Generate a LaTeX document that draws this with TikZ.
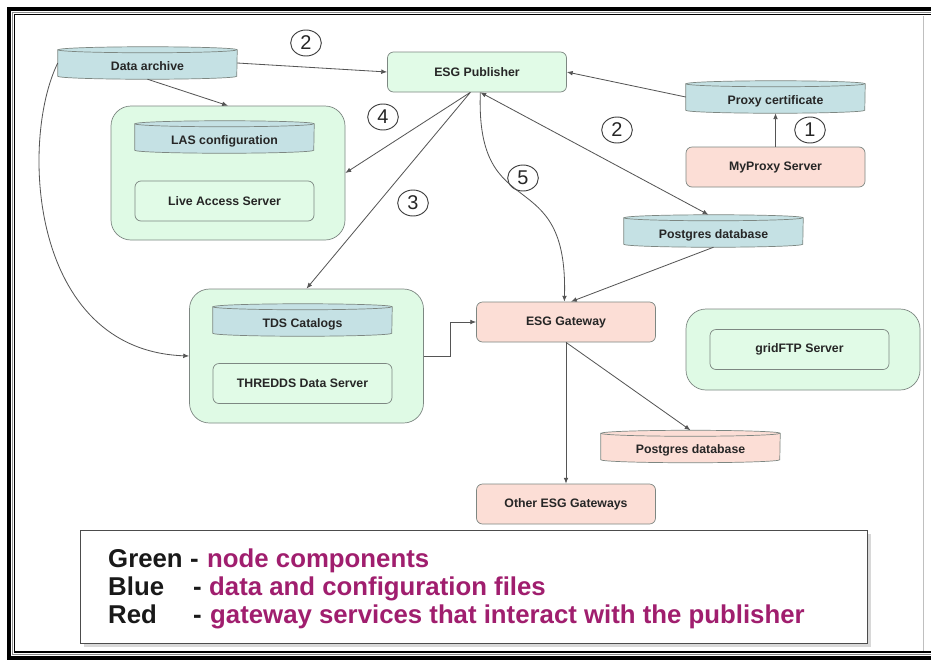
\documentclass[tikz,border=0pt]{standalone}
\usepackage{fontspec}
\setsansfont{Liberation Sans}
\usetikzlibrary{arrows.meta,backgrounds,shadows,shapes.geometric}

\definecolor{grpgreen}{RGB}{223,250,229}
\definecolor{boxgreen}{RGB}{225,251,231}
\definecolor{dbblue}{RGB}{197,225,228}
\definecolor{boxred}{RGB}{252,222,214}
\definecolor{legpurple}{RGB}{160,30,110}
\definecolor{linegray}{RGB}{85,85,85}
\definecolor{edgegray}{RGB}{125,135,130}

\tikzset{
  every node/.style={font=\sffamily\bfseries\fontsize{10.5}{12}\selectfont, text=black!85},
  grpbox/.style={draw=edgegray, fill=grpgreen, rounded corners=6mm, minimum width=70.2mm, line width=0.6pt},
  srvbox/.style={draw=edgegray, fill=boxgreen, rounded corners=1.8mm, minimum width=53.7mm, minimum height=12mm, line width=0.6pt},
  gwbox/.style={srvbox, fill=boxred},
  dbase/.style={minimum width=53.7mm, minimum height=7.8mm, inner sep=0pt, text height=12.5pt, text depth=0pt},
  numcirc/.style={ellipse, draw=black!75, line width=0.8pt, minimum width=9.2mm, minimum height=7.8mm, inner sep=0pt, font=\sffamily\fontsize{17}{17}\selectfont},
  legtxt/.style={font=\sffamily\bfseries\fontsize{22}{24}\selectfont, inner sep=0pt, text=black!90, anchor=base west},
  link/.style={draw=linegray, line width=0.7pt, ->},
  >={Latex[length=5pt,width=4pt]}
}

\begin{document}
\begin{tikzpicture}[x=0.3mm, y=-0.3mm]
\useasboundingbox (0,0) rectangle (931,660);
% outer frame
\draw[line width=3.4pt] (9,9) rectangle (990,658);
\draw[black!45, line width=1.6pt] (12.5,12.5) rectangle (990,654.5);
\draw[line width=1.1pt] (14.5,14.5) rectangle (990,652);
\draw[black!25, line width=0.6pt] (923,16) -- (923,651);

% green groups
\begin{scope}[on background layer]
\fill[white] (0,0) rectangle (931,660);
\node[grpbox, minimum height=40.2mm] (lasgrp) at (228,173) {};
\node[grpbox, minimum height=40.2mm] (tdsgrp) at (306.5,356) {};
\node[grpbox, minimum height=24.3mm] (ftpgrp) at (803,349.5) {};
\end{scope}

\node[dbase] (arch) at (147.5,63) {Data archive};
\node[srvbox] (pub) at (477,72) {ESG Publisher};
\node[dbase] (proxy) at (775.5,97) {Proxy certificate};
\node[gwbox] (myproxy) at (775.5,167) {MyProxy Server};
\node[dbase] (lascfg) at (224.5,137) {LAS configuration};
\node[srvbox] (las) at (224.5,201) {Live Access Server};
\node[dbase] (pgpub) at (713.5,231) {Postgres database};
\node[dbase] (tdscat) at (302.5,320) {TDS Catalogs};
\node[srvbox] (tds) at (302.5,383.5) {THREDDS Data Server};
\node[gwbox] (gw) at (566,322) {ESG Gateway};
\node[srvbox] (ftp) at (799.5,349.5) {gridFTP Server};
\node[dbase] (pggw) at (690.5,446.5) {Postgres database};
\node[gwbox] (other) at (566,504) {Other ESG Gateways};

% cylinders
\begin{scope}[on background layer]
\foreach \db/\col in {arch/dbblue, proxy/dbblue, lascfg/dbblue, pgpub/dbblue, tdscat/dbblue, pggw/boxred}{
  \filldraw[fill=\col, draw=edgegray, line width=0.6pt] (\db.north west) -- (\db.south west)
    arc[start angle=180, end angle=360, x radius=26.85mm, y radius=0.9mm] -- (\db.north east)
    arc[start angle=0, end angle=180, x radius=26.85mm, y radius=0.9mm] -- cycle;
  \draw[edgegray, line width=0.6pt] (\db.north west) arc[start angle=180, end angle=360, x radius=26.85mm, y radius=0.9mm];
}
\end{scope}

\node[numcirc] (n2a) at (306,43) {2};
\node[numcirc] (n4) at (383,117) {4};
\node[numcirc] (n3) at (413,203) {3};
\node[numcirc] (n5) at (523,178) {5};
\node[numcirc] (n2b) at (617,130) {2};
\node[numcirc] (n1) at (810,130) {1};

% connectors
\coordinate (publ) at ([xshift=-2mm]pub.south);
\coordinate (pubr) at ([xshift=1mm]pub.south);
\draw[link] (arch.east) -- (pub.west);
\draw[link] ([yshift=-0.9mm]arch.south) -- (lasgrp.north);
\draw[link] (publ) -- (lasgrp.east);
\draw[link] (publ) -- (tdsgrp.north);
\draw[link, <->] (pubr) -- ([xshift=-1.5mm,yshift=0.9mm]pgpub.north);
\draw[link] (pubr) .. controls +(-5,136) and +(4,-142) .. ([xshift=-0.5mm]gw.north);
\draw[link] ([yshift=-0.9mm]pgpub.south) -- ([xshift=1.5mm]gw.north);
\draw[link] (proxy.west) -- (pub.east);
\draw[link] (myproxy.north) -- ([yshift=-0.9mm]proxy.south);
\draw[link] (arch.west) .. controls +(-38,77) and +(-160,-6) .. (tdsgrp.west);
\draw[link] (tdsgrp.east) -- ++(27,0) |- (gw.west);
\draw[link] (gw.south) -- (other.north);
\draw[link] (gw.south) -- ([yshift=0.9mm]pggw.north);

% legend
\node[draw=black!70, fill=white, line width=0.8pt, minimum width=236.1mm, minimum height=33.9mm,
  drop shadow={shadow xshift=1.2mm, shadow yshift=-1.2mm, opacity=0.3}] (legend) at (473.5,586.5) {};
\foreach \k/\lbl/\dx/\dd/\txt/\yy in {1/Green/190/207/node components/567,
    2/Blue/193/209/data and configuration files/595,
    3/Red/193/210/gateway services that interact with the publisher/623}{
  \node[legtxt] (lab\k) at (108,\yy) {\lbl};
  \node[legtxt] (dash\k) at (\dx,\yy) {-};
  \node[legtxt, text=legpurple] (desc\k) at (\dd,\yy) {\txt};
}
\end{tikzpicture}
\end{document}
